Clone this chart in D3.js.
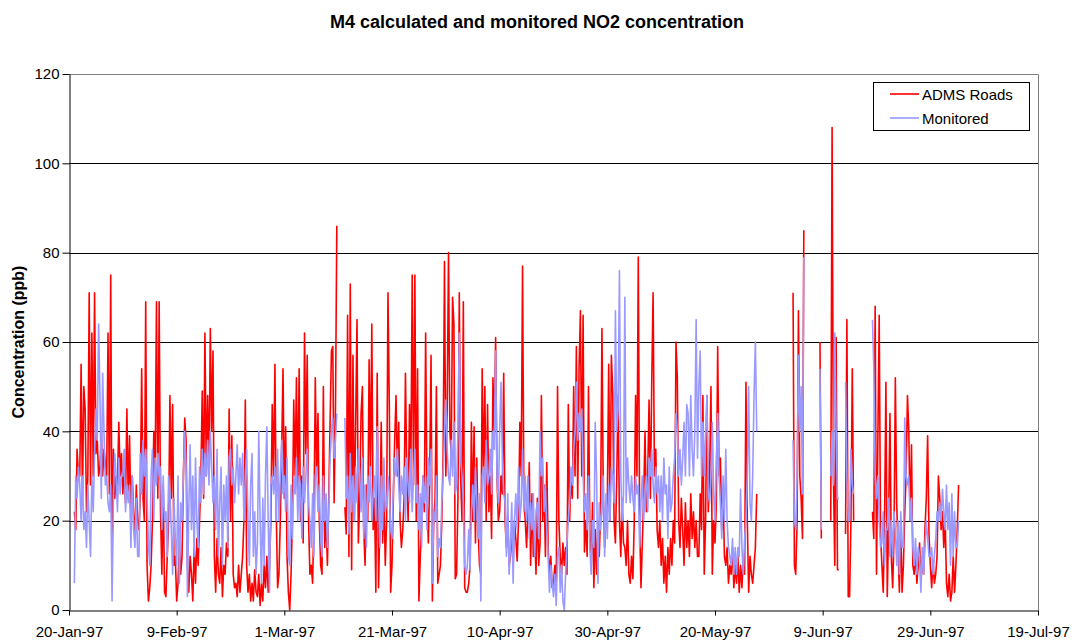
<!DOCTYPE html>
<html lang="en">
<head>
<meta charset="utf-8">
<title>M4 calculated and monitored NO2 concentration</title>
<style>
  body { margin: 0; background: #fff; }
  svg { display: block; font-family: Arial, "Liberation Sans", sans-serif; }
</style>
</head>
<body>
<div id="chart"></div>
<script src="https://d3js.org/d3.v7.min.js"></script>
<script>

// readings every 6 hours from 21-Jan-97 00:00 (ppb), null = no data
var startDate = "21-Jan-97";
var stepHours = 6;

var admsRoads = [
  22,18,36,30, 30,55,25,50, 45,22,30,71, 28,62,30,71, 35,38,30,32,
  40,30,36,33, 30,62,26,75, 10,36,25,30, 28,42,30,35, 26,32,24,45,
  25,39,20,30, 22,16,28,20, 18,26,54,25, 20,69,10,2, 5,10,20,40,
  30,69,25,69, 22,8,28,4, 3,12,20,48, 25,46,10,12, 2,6,15,8,
  12,30,43,38, 10,4,12,8, 2,14,6,16, 10,20,30,49, 25,62,30,48,
  30,63,40,58, 12,4,16,8, 6,14,3,10, 8,15,12,45, 20,39,8,5,
  6,3,10,4, 8,12,20,47, 10,4,8,2, 6,2,9,4, 3,8,1,6,
  2,10,5,12, 4,10,20,46, 30,55,22,5, 8,20,35,54, 25,41,12,4,
  0,8,20,47, 30,52,25,54, 20,30,15,62, 35,57,20,8, 10,6,20,52,
  30,44,20,10, 8,50,14,20, 10,25,42,58, 59,24,45,86, null,null,null,null,
  null,23,17,66, 12,73,9,57, 20,42,65,15, 25,44,50,18, 10,28,20,56,
  30,64,18,25, 4,53,5,20, 42,15,26,10, 20,71,46,4, 10,25,38,48,
  30,42,20,14, 18,25,53,30, 20,46,30,75, 28,75,20,54, 2,12,20,30,
  22,62,25,15, 30,57,2,20, 25,50,6,8, 10,20,35,78, 30,45,80,40,
  35,70,64,7, 8,25,71,30, 20,69,5,4, 4,6,10,42, 20,41,15,34,
  18,10,8,54, 30,50,20,46, 22,30,16,52, 40,61,30,20, 22,30,26,53,
  20,14,21,10, 12,18,10,20, 16,11,20,42, 30,77,25,20, 14,22,33,10,
  26,12,18,8, 25,10,15,48, 20,28,12,33, 14,8,12,5, 6,10,4,50,
  20,12,8,15, 10,14,8,46, 20,30,25,50, 30,59,25,54, 67,30,66,13,
  20,12,50,18, 10,24,5,18, 8,20,12,22, 63,25,14,20, 24,55,20,57,
  49,20,15,30, 48,20,12,25, 15,14,10,20, 8,6,12,7, 20,48,30,79,
  20,5,15,25, 40,22,30,47, 25,51,71,30, 36,18,14,20, 10,16,6,12,
  4,14,8,16, 10,20,15,60, 52,20,14,25, 18,10,24,14, 20,12,26,16,
  22,14,20,12, 12,26,18,48, 8,20,48,22, 30,50,8,20, 15,24,59,30,
  34,18,27,12, 10,14,6,10, 8,14,5,10, 6,12,4,10, 5,12,8,51,
  20,4,12,8, 6,10,14,26, null,null,null,null, null,null,null,null, null,null,null,null,
  null,null,null,null, null,null,null,null, null,null,null,null, null,null,71,10, 8,20,67,30,
  25,16,85,null, null,null,null,null, null,null,null,null, null,null,60,16, null,null,null,null,
  null,null,20,108, 30,10,61,9, 9,null,null,null, null,17,65,3, 3,20,54,20,
  null,null,null,null, null,null,null,null, null,null,null,null, null,22,16,68, 8,38,66,17,
  10,4,20,51, 3,20,44,12, 5,16,52,24, 14,4,20,4, 10,22,30,48,
  40,20,37,10, 8,13,6,10, 15,6,12,8, 18,25,39,17, 10,5,11,6,
  8,12,30,25, 18,22,14,21, 6,3,8,2, 4,12,4,10, 18,28
];

var monitored = [
  6,30,25,32, 28,20,30,18, 22,14,28,20, 12,30,22,35, 45,38,64,48,
  25,53,40,28, 30,24,22,28, 2,25,35,30, 22,34,26,30, 30,36,22,28,
  24,28,14,30, 18,14,25,12, 12,35,26,38, 30,36,26,15, 10,30,36,20,
  34,28,35,30, 32,18,30,20, 22,12,30,26, 18,8,25,16, 10,30,6,24,
  20,30,40,32, 3,22,37,18, 30,12,34,20, 14,32,24,36, 26,35,30,38,
  28,40,32,24, 30,18,36,12, 24,32,10,28, 20,30,14,34, 36,28,32,24,
  30,37,26,34, 28,35,20,30, 36,20,10,28, 35,12,22,8, 15,40,20,6,
  25,10,30,41, 20,4,28,30, 26,32,20,36, 20,30,38,26, 30,22,34,12,
  10,28,16,30, 26,34,20,30, 28,16,32,24, 30,36,24,20, 14,26,12,30,
  32,22,28,16, 12,30,20,26, 14,22,34,40, 43,34,38,44, null,null,null,null,
  null,43,25,30, 17,35,22,30, 20,32,24,36, 30,22,34,16, 28,14,30,24,
  32,20,26,30, 20,41,26,14, 30,18,34,22, 24,30,26,18, 16,28,34,30,
  36,28,22,30, 26,32,20,34, 28,24,36,22, 30,36,24,28, 18,26,14,30,
  24,30,18,34, 28,36,6,22, 20,30,12,16, 14,24,30,40, 47,36,30,28,
  38,30,42,26, 28,40,62,34, 30,24,10,8, 10,18,9,22, 28,20,32,24,
  16,26,2,30, 32,24,38,28, 30,36,26,40, 36,58,30,24, 40,51,34,26,
  24,12,26,8, 14,24,6,20, 26,18,32,20, 24,36,22,30, 20,30,16,24,
  18,26,12,22, 24,16,40,30, 34,22,28,18, 12,4,10,6, 3,8,1,12,
  14,4,10,2, 0,8,15,20, 24,32,28,36, 40,51,38,44, 40,45,30,22,
  26,18,30,14, 8,20,14,42, 30,6,24,18, 22,30,12,26, 16,28,20,32,
  30,24,67,40, 45,76,30,20, 26,70,24,34, 28,24,30,25, 22,30,26,28,
  14,24,30,20, 26,30,22,34, 30,36,28,24, 32,26,30,22, 30,20,34,26,
  28,16,32,22, 24,30,34,44, 40,30,36,28, 34,42,30,46, 44,30,48,36,
  30,40,65,34, 50,58,30,42, 30,40,48,26, 24,30,42,26, 20,34,44,30,
  24,16,30,20, 36,20,14,12, 10,16,8,14, 8,14,12,27, 14,8,16,20,
  30,50,24,20, 30,48,60,40, null,null,null,null, null,null,null,null, null,null,null,null,
  null,null,null,null, null,null,null,null, null,null,null,null, null,null,38,20, 18,30,57,40,
  50,26,79,null, null,null,null,null, null,null,null,null, null,null,54,18, null,null,null,null,
  null,null,30,40, 28,62,40,25, 25,null,null,null, null,51,30,20, 20,36,28,26,
  null,null,null,null, null,null,null,null, null,null,null,null, null,65,54,30, 25,30,20,14,
  15,22,10,18, 18,25,12,20, 12,22,18,10, 20,8,22,14, 14,43,30,28,
  30,20,25,14, 10,16,8,14, 12,4,14,8, 14,20,16,12, 12,14,8,12,
  16,22,20,24, 20,27,22,18, 28,18,24,10, 26,12,22,14, 14,20
];

var xTickLabels = ["20-Jan-97", "9-Feb-97", "1-Mar-97", "21-Mar-97", "10-Apr-97",
                   "30-Apr-97", "20-May-97", "9-Jun-97", "29-Jun-97", "19-Jul-97"];
var yTicks = [0, 20, 40, 60, 80, 100, 120];
var seriesNames = ["ADMS Roads", "Monitored"];
var seriesColors = ["#ff0000", "#9999ff"];

// layout
var width = 1074, height = 643;
var margin = {top: 74, right: 36, bottom: 33, left: 69};

var parseDate = d3.timeParse("%d-%b-%y");
var formatDate = d3.timeFormat("%-d-%b-%y");
var tickDates = xTickLabels.map(parseDate);
var start = parseDate(startDate);

var svg = d3.select("#chart")
  .append("svg")
    .attr("width", width)
    .attr("height", height);

var x = d3.scaleTime()
  .domain([tickDates[0], tickDates[tickDates.length - 1]])
  .range([margin.left, width - margin.right]);

var y = d3.scaleLinear()
  .domain([0, 120])
  .range([height - margin.bottom, margin.top]);

// turn the arrays into {date, v}
function toPoints(values) {
  return values.map(function(v, i) {
    return {date: d3.timeHour.offset(start, i * stepHours), v: v};
  });
}

// title
svg.append("text")
  .attr("x", 537)
  .attr("y", 28)
  .attr("text-anchor", "middle")
  .attr("font-size", "18px")
  .attr("font-weight", "bold")
  .text("M4 calculated and monitored NO2 concentration");

// gridlines
svg.append("g")
  .selectAll("line")
  .data(yTicks.filter(function(d){ return d > 0 && d < 120; }))
  .enter()
  .append("line")
    .attr("x1", x.range()[0])
    .attr("x2", x.range()[1])
    .attr("y1", function(d){ return Math.round(y(d)) + 0.5; })
    .attr("y2", function(d){ return Math.round(y(d)) + 0.5; })
    .attr("stroke", "#000")
    .attr("stroke-width", 1);

// grey frame on top and right
svg.append("path")
  .attr("d", "M" + x.range()[0] + "," + (y(120) + 0.5) + "H" + (x.range()[1] + 0.5) + "V" + y(0))
  .attr("fill", "none")
  .attr("stroke", "#808080")
  .attr("stroke-width", 1);

// lines: model first, monitored on top
var line = d3.line()
  .defined(function(d){ return d.v !== null; })
  .x(function(d){ return x(d.date); })
  .y(function(d){ return y(d.v); });

[admsRoads, monitored].forEach(function(values, i) {
  svg.append("path")
    .datum(toPoints(values))
    .attr("fill", "none")
    .attr("stroke", seriesColors[i])
    .attr("stroke-width", 1.6)
    .attr("stroke-linejoin", "round")
    .attr("d", line);
});

// axes
var yAxis = svg.append("g")
  .attr("transform", "translate(" + (margin.left + 0.5) + ",0)")
  .call(d3.axisLeft(y).tickValues(yTicks).tickSize(7).tickPadding(3).tickSizeOuter(0));

var xAxis = svg.append("g")
  .attr("transform", "translate(0," + (y(0) + 0.5) + ")")
  .call(d3.axisBottom(x).tickValues(tickDates).tickFormat(formatDate)
          .tickSize(5).tickPadding(11).tickSizeOuter(0));

[yAxis, xAxis].forEach(function(g) {
  g.attr("font-family", "Arial, 'Liberation Sans', sans-serif")
   .attr("font-size", "15px");
  g.selectAll("text").attr("fill", "#000");
  g.selectAll("line, path").attr("stroke", "#000");
});

// y axis title
svg.append("text")
  .attr("transform", "translate(24," + ((margin.top + height - margin.bottom) / 2) + ") rotate(-90)")
  .attr("text-anchor", "middle")
  .attr("font-size", "16px")
  .attr("font-weight", "bold")
  .text("Concentration (ppb)");

// legend
var legend = svg.append("g");
legend.append("rect")
  .attr("x", 873.5)
  .attr("y", 82.5)
  .attr("width", 156)
  .attr("height", 48)
  .attr("fill", "#fff")
  .attr("stroke", "#000");

seriesNames.forEach(function(name, i) {
  var ly = 94 + i * 24;
  legend.append("line")
    .attr("x1", 890).attr("x2", 919)
    .attr("y1", ly).attr("y2", ly)
    .attr("stroke", seriesColors[i])
    .attr("stroke-width", 1.6);
  legend.append("text")
    .attr("x", 922)
    .attr("y", ly + 5.5)
    .attr("font-size", "15px")
    .text(name);
});

</script>
</body>
</html>
